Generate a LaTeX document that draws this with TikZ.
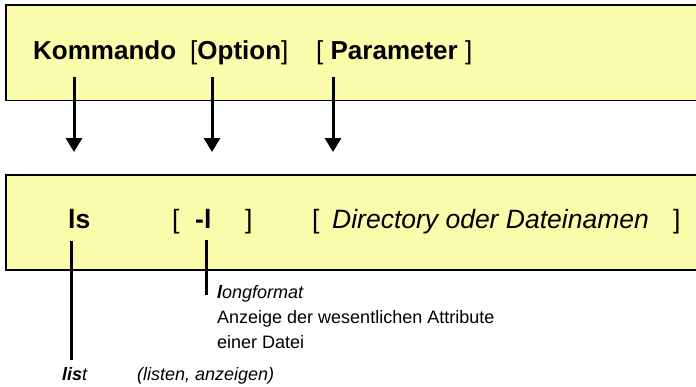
\documentclass[tikz,border=0pt]{standalone}
\usepackage{fontspec}
\setmainfont{Liberation Sans}
\usetikzlibrary{arrows.meta}

\definecolor{feld}{RGB}{250,252,172}

\begin{document}
\begin{tikzpicture}[x=1pt,y=-1pt,
	kasten/.style={draw=black,line width=1.3pt,fill=feld},
	wort/.style={inner sep=0pt,anchor=base west},
	gross/.style={wort,font=\fontsize{26}{31}\selectfont},
	mittel/.style={wort,font=\fontsize{26.5}{31}\selectfont},
	klein/.style={wort,font=\fontsize{18}{25}\selectfont},
	pfeil/.style={line width=3pt,-{Triangle[width=16pt,length=14pt]}},
	strich/.style={line width=3pt}]
	\useasboundingbox (0,0) rectangle (696,386);
	% die beiden Felder
	\draw[kasten] (6,5) rectangle (710,100.5);
	\draw[kasten] (6,175) rectangle (710,270);
	% allgemeine Form
	\node[gross] (kommando) at (33,59) {\bfseries Kommando};
	\node[gross] (option) at (190,59) {[\textbf{Option}]};
	\node[gross] (parameter) at (316,59) {[ \textbf{Parameter} ]};
	% Beispiel
	\node[mittel] (ls) at (68,228) {\bfseries ls};
	\node[mittel] (lbrA) at (172,228) {[};
	\node[mittel] (optl) at (195,228) {\bfseries -l};
	\node[mittel] (rbrA) at (245,228) {]};
	\node[mittel] (lbrB) at (312,228) {[};
	\node[mittel] (dateien) at (332,228) {\itshape Directory oder Dateinamen};
	\node[mittel] (rbrB) at (673,228) {]};
	% Erklaerungen
	\node[klein] (langform) at (217,298) {\itshape\textbf{l}ongformat};
	\node[klein] (anzeige) at (217,323) {Anzeige der wesentlichen Attribute};
	\node[klein] (datei) at (217,348) {einer Datei};
	\node[klein] (list) at (62,380) {\itshape\textbf{lis}t};
	\node[klein] (listen) at (137,380) {\itshape (listen, anzeigen)};
	% Pfeile von oben nach unten
	\foreach \n/\x in {a/74,b/212,c/333}{
		\coordinate (\n1) at (\x,77);
		\coordinate (\n2) at (\x,152);
		\draw[pfeil] (\n1) -- (\n2);
	}
	% Striche zu den Erklaerungen
	\coordinate (ls1) at (71,241);
	\coordinate (ls2) at (71,360);
	\draw[strich] (ls1) -- (ls2);
	\coordinate (lf1) at (206,240);
	\coordinate (lf2) at (206,295);
	\draw[strich] (lf1) -- (lf2);
\end{tikzpicture}
\end{document}
